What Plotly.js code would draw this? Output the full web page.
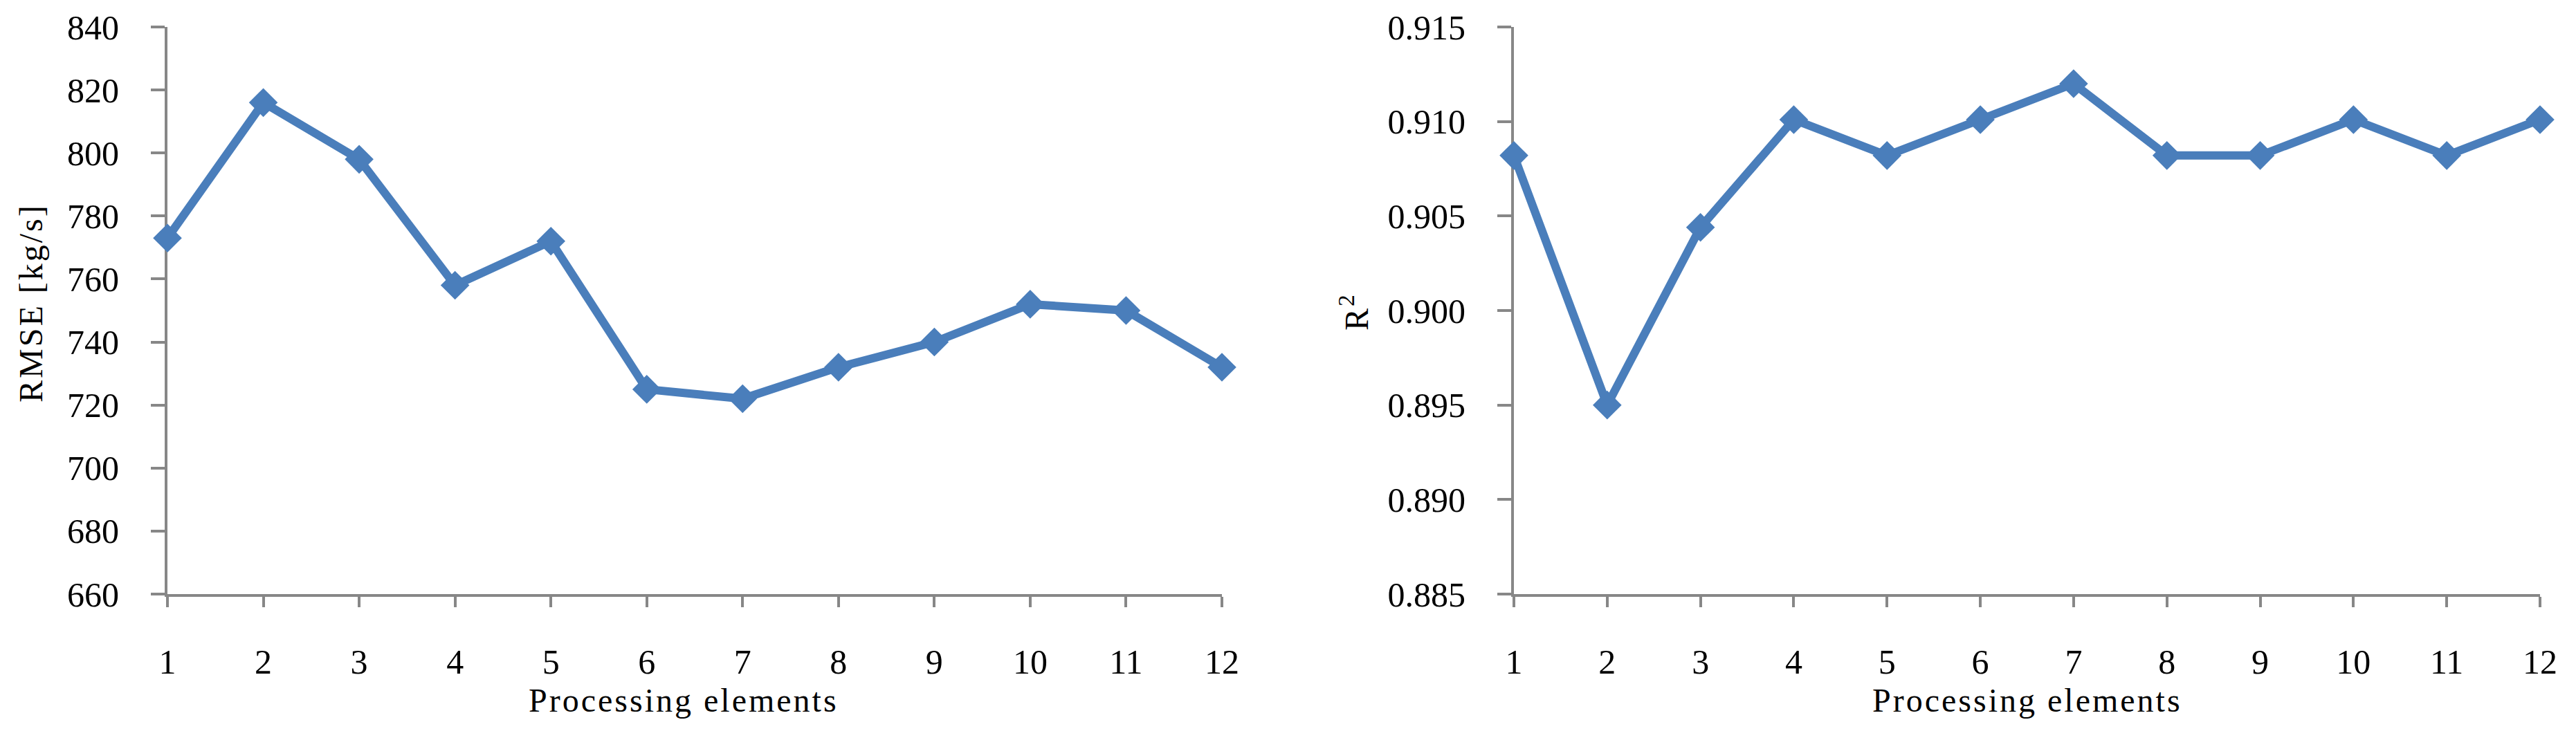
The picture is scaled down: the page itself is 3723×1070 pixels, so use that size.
<!DOCTYPE html>
<html>
<head>
<meta charset="utf-8">
<script src="https://cdn.plot.ly/plotly-3.0.1.min.js"></script>
<style>
  html, body { margin: 0; padding: 0; background: #ffffff; }
  #chart { width: 3723px; height: 1070px; }
  .annotation-text { letter-spacing: 3px; }
</style>
</head>
<body>
<div id="chart"></div>
<script>
// ---- data ----
const processingElements = [1, 2, 3, 4, 5, 6, 7, 8, 9, 10, 11, 12];
const rmseValues = [773, 816, 798, 758, 772, 725, 722, 732, 740, 752, 750, 732];
const r2Values = [0.9082, 0.8950, 0.9044, 0.9101, 0.9082, 0.9101, 0.9120, 0.9082, 0.9082, 0.9101, 0.9082, 0.9101];

const rmseTickVals = [660, 680, 700, 720, 740, 760, 780, 800, 820, 840];
const rmseTickText = ['660', '680', '700', '720', '740', '760', '780', '800', '820', '840'];
const r2TickVals = [0.885, 0.890, 0.895, 0.900, 0.905, 0.910, 0.915];
const r2TickText = ['0.885', '0.890', '0.895', '0.900', '0.905', '0.910', '0.915'];

const xTitle = 'Processing elements';
const rmseTitle = 'RMSE [kg/s]';
const r2Title = 'R<sup>2</sup>';

// ---- styling ----
const W = 3723, H = 1070;
const blue = '#4A7EBB';
const axisGray = '#878787';
const fontFam = '"Liberation Serif", "Times New Roman", serif';

const px = v => v / W;
const py = v => (H - v) / H;

function lineTrace(y, xa, ya) {
  return {
    x: processingElements, y: y, xaxis: xa, yaxis: ya,
    type: 'scatter', mode: 'lines+markers',
    line: { color: blue, width: 12 },
    marker: { symbol: 'diamond', size: 32, color: blue, line: { width: 0 } },
    cliponaxis: false, showlegend: false, hoverinfo: 'skip'
  };
}

function xAxis(domain, anchor) {
  return {
    domain: domain, anchor: anchor, range: [1, 12],
    tickmode: 'array', tickvals: processingElements,
    ticktext: processingElements.map(String),
    ticks: 'outside', ticklen: 15, tickwidth: 4, tickcolor: axisGray,
    showline: true, linecolor: axisGray, linewidth: 4,
    showgrid: false, zeroline: false, layer: 'below traces',
    ticklabelstandoff: 36,
    tickfont: { family: fontFam, size: 50, color: '#000' }
  };
}

function yAxis(domain, anchor, range, vals, text) {
  return {
    domain: domain, anchor: anchor, range: range,
    tickmode: 'array', tickvals: vals, ticktext: text,
    ticks: 'outside', ticklen: 20, tickwidth: 4, tickcolor: axisGray,
    showline: true, linecolor: axisGray, linewidth: 4,
    showgrid: false, zeroline: false, layer: 'below traces',
    ticklabelstandoff: 36,
    tickfont: { family: fontFam, size: 50, color: '#000' }
  };
}

const yDom = [py(859), py(39)];
const leftDom = [px(242), px(1766)];
const rightDom = [px(2188), px(3671)];

const data = [
  lineTrace(rmseValues, 'x', 'y'),
  lineTrace(r2Values, 'x2', 'y2')
];

const titleFont = { family: fontFam, size: 48, color: '#000' };

const layout = {
  width: W, height: H,
  margin: { l: 0, r: 0, t: 0, b: 0 },
  paper_bgcolor: '#ffffff', plot_bgcolor: 'rgba(0,0,0,0)',
  showlegend: false,
  xaxis: xAxis(leftDom, 'y'),
  yaxis: yAxis(yDom, 'x', [660, 840], rmseTickVals, rmseTickText),
  xaxis2: xAxis(rightDom, 'y2'),
  yaxis2: yAxis(yDom, 'x2', [0.885, 0.915], r2TickVals, r2TickText),
  annotations: [
    { text: xTitle, xref: 'paper', yref: 'paper', x: px(988), y: py(1012),
      xanchor: 'center', yanchor: 'middle', showarrow: false, font: titleFont },
    { text: xTitle, xref: 'paper', yref: 'paper', x: px(2930), y: py(1012),
      xanchor: 'center', yanchor: 'middle', showarrow: false, font: titleFont },
    { text: rmseTitle, xref: 'paper', yref: 'paper', x: px(44), y: py(438),
      xanchor: 'center', yanchor: 'middle', textangle: -90, showarrow: false, font: titleFont },
    { text: r2Title, xref: 'paper', yref: 'paper', x: px(1957), y: py(450),
      xanchor: 'center', yanchor: 'middle', textangle: -90, showarrow: false, font: titleFont }
  ]
};

Plotly.newPlot('chart', data, layout, { staticPlot: true, displayModeBar: false });
</script>
</body>
</html>
